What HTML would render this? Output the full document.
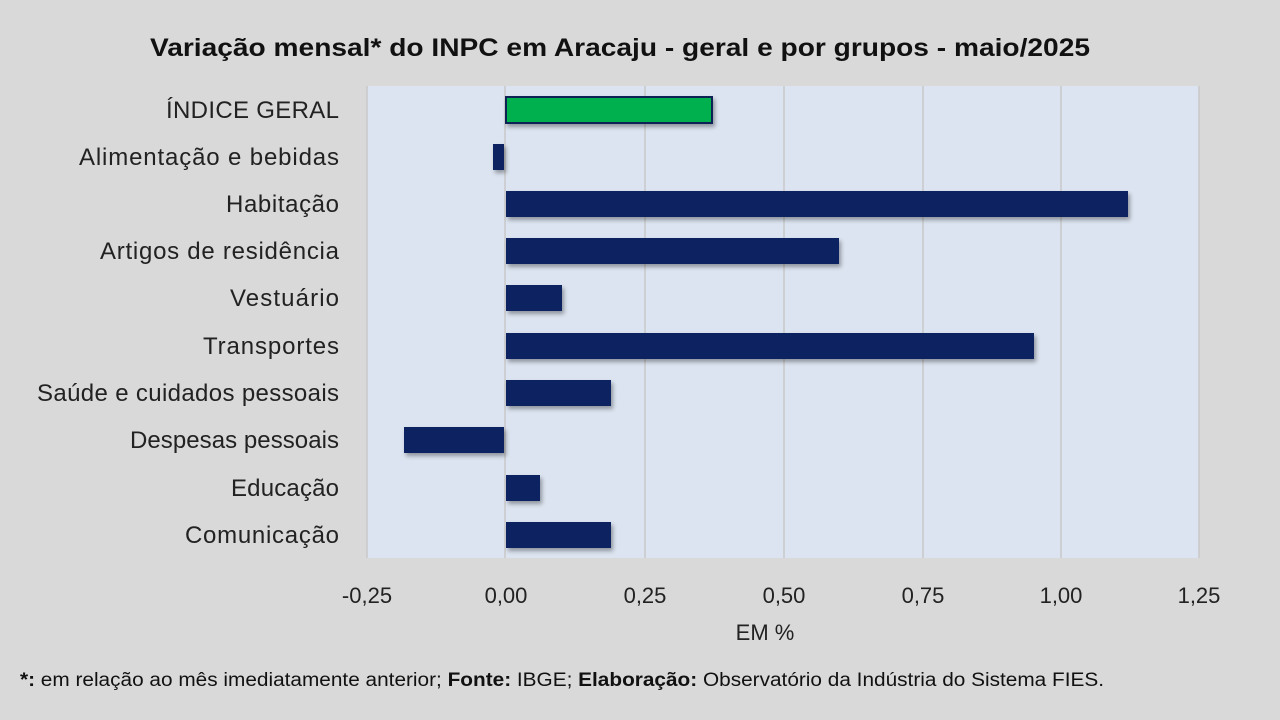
<!DOCTYPE html>
<html><head><meta charset="utf-8"><style>
body{margin:0;width:1280px;height:720px;background:#d9d9d9;font-family:"Liberation Sans",sans-serif;overflow:hidden}
svg{display:block}
</style></head><body>
<svg width="1280" height="720" xmlns="http://www.w3.org/2000/svg" font-family="Liberation Sans, sans-serif">
<defs><filter id="sh" x="-10%" y="-30%" width="120%" height="180%"><feDropShadow dx="2" dy="3" stdDeviation="2" flood-color="#000" flood-opacity="0.35"/></filter></defs>
<rect width="1280" height="720" fill="#d9d9d9"/>
<text x="150" y="56" font-size="25" font-weight="bold" fill="#111" textLength="940" lengthAdjust="spacingAndGlyphs">Variação  mensal*  do INPC em Aracaju  - geral e por grupos - maio/2025</text>
<rect x="367" y="86" width="832" height="472" fill="#dce4f1"/>
<g stroke="#c8c8c8" stroke-width="1.5">
<line x1="367" y1="86" x2="367" y2="558"/><line x1="645" y1="86" x2="645" y2="558"/><line x1="784" y1="86" x2="784" y2="558"/><line x1="923" y1="86" x2="923" y2="558"/><line x1="1061" y1="86" x2="1061" y2="558"/><line x1="1199" y1="86" x2="1199" y2="558"/>
<line x1="505" y1="86" x2="505" y2="558"/>
</g>
<g filter="url(#sh)" stroke="#0d2455" stroke-width="2">
<rect x="506" y="97" width="206" height="26" fill="#00b050"/>
</g>
<g filter="url(#sh)" fill="#0d2460">
<rect x="493" y="144" width="11" height="26"/>
<rect x="506" y="191" width="622" height="26"/>
<rect x="506" y="238" width="333" height="26"/>
<rect x="506" y="285" width="56" height="26"/>
<rect x="506" y="333" width="528" height="26"/>
<rect x="506" y="380" width="105" height="26"/>
<rect x="404" y="427" width="100" height="26"/>
<rect x="506" y="475" width="34" height="26"/>
<rect x="506" y="522" width="105" height="26"/>
</g>
<g font-size="24" fill="#222" lengthAdjust="spacingAndGlyphs">
<text x="166" y="118" textLength="173">ÍNDICE GERAL</text>
<text x="79" y="165" textLength="260">Alimentação e bebidas</text>
<text x="226" y="212" textLength="113">Habitação</text>
<text x="100" y="259" textLength="239">Artigos de residência</text>
<text x="230" y="306" textLength="109">Vestuário</text>
<text x="203" y="354" textLength="136">Transportes</text>
<text x="37" y="401" textLength="302">Saúde e cuidados pessoais</text>
<text x="130" y="448" textLength="209">Despesas pessoais</text>
<text x="231" y="496" textLength="108">Educação</text>
<text x="185" y="543" textLength="154">Comunicação</text>
</g>
<g font-size="22" fill="#222" text-anchor="middle">
<text x="367" y="603">-0,25</text><text x="506" y="603">0,00</text><text x="645" y="603">0,25</text><text x="784" y="603">0,50</text><text x="923" y="603">0,75</text><text x="1061" y="603">1,00</text><text x="1199" y="603">1,25</text>
<text x="765" y="640">EM %</text>
</g>
<text x="20" y="686" font-size="19" fill="#111" textLength="1084" lengthAdjust="spacingAndGlyphs"><tspan font-weight="bold">*:</tspan> em relação ao mês imediatamente  anterior; <tspan font-weight="bold">Fonte:</tspan> IBGE; <tspan font-weight="bold">Elaboração:</tspan> Observatório da Indústria do Sistema FIES.</text>
</svg>
</body></html>
